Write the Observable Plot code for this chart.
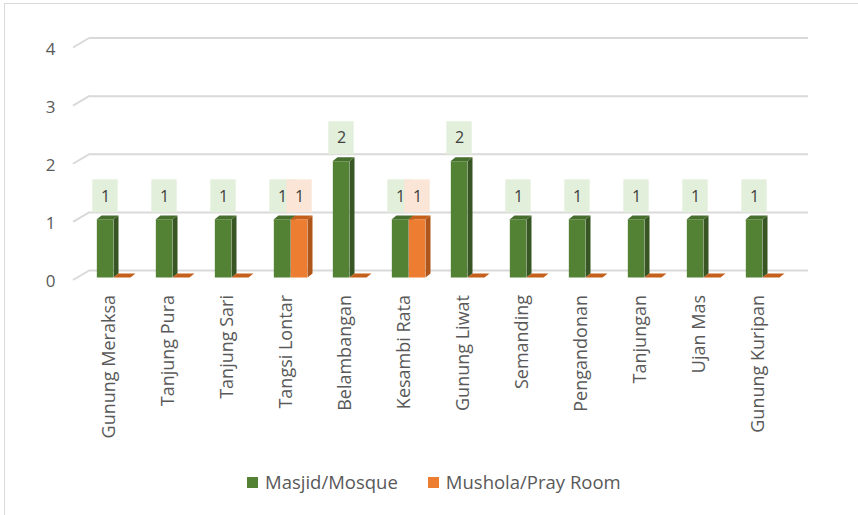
<!DOCTYPE html>
<html>
<head>
<meta charset="utf-8">
<script src="https://cdn.jsdelivr.net/npm/d3@7"></script>
<script src="https://cdn.jsdelivr.net/npm/@observablehq/plot@0.6"></script>
<style>
  html, body { margin: 0; padding: 0; background: #fff; }
  #wrap { position: relative; width: 858px; height: 515px; overflow: hidden; font-family: "Open Sans", sans-serif; }
  #frame { position: absolute; left: 4px; top: 3px; right: -10px; bottom: -10px; border-left: 1.5px solid #d9d9d9; border-top: 1.5px solid #d9d9d9; }
  #chart { position: absolute; left: 0; top: 0; }
  #legend { position: absolute; left: 247px; top: 471px; display: flex; align-items: center; font-size: 18.5px; line-height: 22px; color: #595959; white-space: nowrap; }
  #legend .sw { display: inline-block; width: 11px; height: 11px; margin-right: 7px; }
  #legend .item { display: flex; align-items: center; margin-right: 30px; }
</style>
</head>
<body>
<div id="wrap">
  <div id="frame"></div>
  <div id="chart"></div>
  <div id="legend"></div>
</div>
<script>
// ---- data ----
const categories = ["Gunung Meraksa", "Tanjung Pura", "Tanjung Sari", "Tangsi Lontar", "Belambangan", "Kesambi Rata", "Gunung Liwat", "Semanding", "Pengandonan", "Tanjungan", "Ujan Mas", "Gunung Kuripan"];
const masjid  = [1, 1, 1, 1, 2, 1, 2, 1, 1, 1, 1, 1];
const mushola = [0, 0, 0, 1, 0, 1, 0, 0, 0, 0, 0, 0];
const seriesNames = ["Masjid/Mosque", "Mushola/Pray Room"];
const yTicks = [0, 1, 2, 3, 4];

// ---- styles ----
const front = ["#548235", "#ed7d31"];
const side  = ["#375623", "#ae5519"];
const top_  = ["#466e2c", "#c5601c"];
const boxFill = ["#e2efda", "#fbe5d6"];
const gridColor = "#d9d9d9";

const W = 858, H = 460, ML = 80, MR = 62;
const step = (W - ML - MR) / categories.length;
const barW = 17, depth = 5, rise = 4;

const rows = categories.map((c, i) => ({category: c, v0: masjid[i], v1: mushola[i]}));

function pickArgs(args) {
  const scales = args.find(a => a && typeof a.y === "function" && typeof a.x === "function");
  const dims = args.find(a => a && typeof a.marginLeft === "number");
  return {scales, dims};
}

// 3D side and top faces for one series, computed from Plot's own scales
function faces(s) {
  const key = s === 0 ? "v0" : "v1";
  return function (...args) {
    const {scales} = pickArgs(args);
    const x = scales.x, y = scales.y;
    const bw = typeof x.bandwidth === "function" ? x.bandwidth() : step;
    const g = d3.create("svg:g");
    const y0 = y(0);
    rows.forEach(d => {
      const x0 = x(d.category) + (s === 0 ? bw / 2 - barW : bw / 2);
      const x1 = x0 + barW;
      const yv = y(d[key]);
      if (y0 - yv > 0.5) {
        g.append("polygon")
          .attr("points", [[x1, y0], [x1 + depth, y0 - rise], [x1 + depth, yv - rise], [x1, yv]].join(" "))
          .attr("fill", side[s]);
      }
      g.append("polygon")
        .attr("points", [[x0, yv], [x0 + depth, yv - rise], [x1 + depth, yv - rise], [x1, yv]].join(" "))
        .attr("fill", top_[s]);
    });
    return g.node();
  };
}

// left diagonal of each 3D gridline
function gridDiagonals(...args) {
  const {scales, dims} = pickArgs(args);
  const y = scales.y;
  const ml = dims ? dims.marginLeft : ML;
  const g = d3.create("svg:g").attr("stroke", gridColor).attr("stroke-width", 2);
  yTicks.forEach(v => {
    g.append("line")
      .attr("x1", ml - 7).attr("y1", y(v) + 2.5)
      .attr("x2", ml + 10).attr("y2", y(v) - 7.5);
  });
  return g.node();
}

function frontBars(s) {
  const key = s === 0 ? "v0" : "v1";
  const fl = s === 0 ? step / 2 - barW : step / 2;
  const fr = step - fl - barW;
  return Plot.barY(rows, {x: "category", y: key, fill: front[s], insetLeft: fl, insetRight: fr});
}

function labelMarks(s) {
  const key = s === 0 ? "v0" : "v1";
  const c = s === 0 ? step / 2 - barW / 2 : step / 2 + barW / 2;
  const bw = 26;
  const data = rows.filter(d => d[key] > 0);
  return [
    Plot.barY(data, {x: "category", y1: key, y2: key, fill: boxFill[s],
      insetLeft: c - bw / 2, insetRight: step - c - bw / 2, insetTop: -40, insetBottom: 7}),
    Plot.text(data, {x: "category", y: key, text: d => String(d[key]), dx: c - step / 2, dy: -23.5,
      fontSize: 16, fill: "#404040"})
  ];
}

const chart = Plot.plot({
  width: W, height: H,
  marginLeft: ML, marginRight: MR, marginTop: 20, marginBottom: H - 277.5,
  style: {fontFamily: "'Open Sans', sans-serif", color: "#595959", background: "transparent", overflow: "visible"},
  x: {domain: categories, padding: 0, axis: null},
  y: {domain: [0, 4], range: [277.5, 45], axis: null},
  marks: [
    Plot.ruleY(yTicks, {dx: 10, dy: -7.5, insetRight: -2, stroke: gridColor, strokeWidth: 2}),
    gridDiagonals,
    faces(0),
    frontBars(0),
    faces(1),
    frontBars(1),
    ...labelMarks(0),
    ...labelMarks(1),
    Plot.axisY({ticks: yTicks, tickSize: 0, tickPadding: 25, dy: 4, fontSize: 17, tickFormat: d => String(d)}),
    Plot.axisX({tickRotate: -90, tickSize: 0, tickPadding: 17, dx: -5, fontSize: 18, label: null})
  ]
});
document.getElementById("chart").appendChild(chart);

// legend
const legend = document.getElementById("legend");
seriesNames.forEach((name, i) => {
  const item = document.createElement("span");
  item.className = "item";
  const sw = document.createElement("span");
  sw.className = "sw";
  sw.style.background = front[i];
  item.appendChild(sw);
  item.appendChild(document.createTextNode(name));
  legend.appendChild(item);
});
</script>
</body>
</html>
